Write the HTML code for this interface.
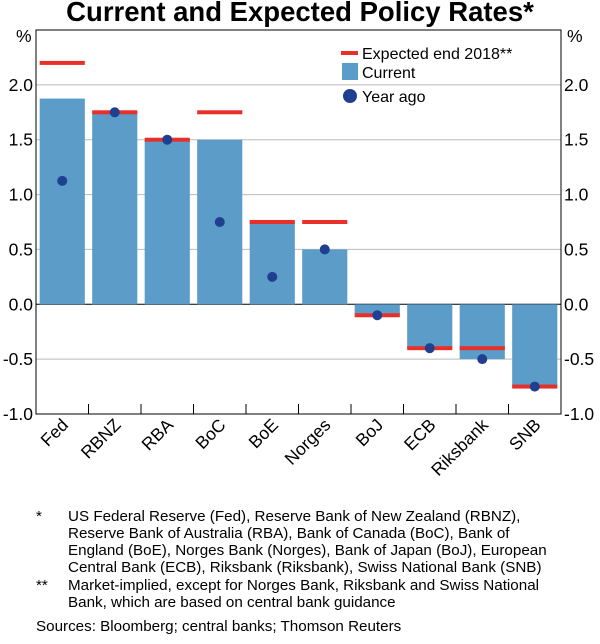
<!DOCTYPE html>
<html><head><meta charset="utf-8"><style>
body{margin:0;background:#fff;}
svg{display:block;font-family:"Liberation Sans",Arial,sans-serif;}
</style></head><body>
<svg id="c" width="600" height="644" viewBox="0 0 600 644">
<text x="300" y="21" text-anchor="middle" font-size="27.5" font-weight="bold">Current and Expected Policy Rates*</text>
<g id="grid"></g>
<g id="bars"></g>
<g id="exp"></g>
<g id="dots"></g>
<g id="axes"></g>
<g>
 <g><rect x="341" y="51" width="17" height="4" fill="#e8302a"/><text x="362" y="59" font-size="16">Expected end 2018**</text></g>
 <g><rect x="342" y="63" width="16" height="17" fill="#5b9cc9"/><text x="362" y="78" font-size="16">Current</text></g>
 <g><circle cx="350" cy="96" r="7" fill="#1f3f8f"/><text x="362" y="102" font-size="16">Year ago</text></g>
</g>
<g font-size="15.2">
 <text x="36" y="521">*</text>
 <text x="68" y="521">US Federal Reserve (Fed), Reserve Bank of New Zealand (RBNZ),</text>
 <text x="68" y="538">Reserve Bank of Australia (RBA), Bank of Canada (BoC), Bank of</text>
 <text x="68" y="555">England (BoE), Norges Bank (Norges), Bank of Japan (BoJ), European</text>
 <text x="68" y="572">Central Bank (ECB), Riksbank (Riksbank), Swiss National Bank (SNB)</text>
 <text x="36" y="590">**</text>
 <text x="68" y="590">Market-implied, except for Norges Bank, Riksbank and Swiss National</text>
 <text x="68" y="607">Bank, which are based on central bank guidance</text>
 <text x="36" y="631">Sources: Bloomberg; central banks; Thomson Reuters</text>
</g>
</svg>
<script>
const categories=["Fed","RBNZ","RBA","BoC","BoE","Norges","BoJ","ECB","Riksbank","SNB"];
const current=[1.875,1.75,1.5,1.5,0.75,0.5,-0.1,-0.4,-0.5,-0.75];
const expected=[2.2,1.75,1.5,1.75,0.75,0.75,-0.1,-0.4,-0.4,-0.75];
const yearAgo=[1.125,1.75,1.5,0.75,0.25,0.5,-0.1,-0.4,-0.5,-0.75];
const yTicks=[-1.0,-0.5,0.0,0.5,1.0,1.5,2.0];
const yTickLabels=["-1.0","-0.5","0.0","0.5","1.0","1.5","2.0"];
const NS="http://www.w3.org/2000/svg";
const L=36,R=561,T=30,B=414;
const yMin=-1,yMax=2.5;
function y(v){return B-(v-yMin)/(yMax-yMin)*(B-T);}
const bw=(R-L)/categories.length;
function xc(i){return L+bw*(i+0.5);}
function mk(tag,attrs,parent){const e=document.createElementNS(NS,tag);for(const k in attrs)e.setAttribute(k,attrs[k]);document.getElementById(parent).appendChild(e);return e;}
yTicks.forEach((t,i)=>{
 if(t>yMin){const g=mk('line',{x1:L,x2:R,y1:y(t),y2:y(t),stroke:t===0?'#000':'#bbb','stroke-width':1},'grid');
 
 }
 const a=mk('text',{x:L-3,y:y(t)+6,'text-anchor':'end','font-size':17.5},'axes');a.textContent=yTickLabels[i];
 
 
 const b=mk('text',{x:R+3,y:y(t)+6,'font-size':17.5},'axes');b.textContent=yTickLabels[i];
 
 
});
[L,R].forEach((xx,j)=>{const p=mk('text',{x:j?R+6:L-20,y:T+12,'font-size':17.5},'axes');p.textContent='%';
 
 });
categories.forEach((c,i)=>{
 const v=current[i];const w=bw*0.86;
 const r=mk('rect',{x:xc(i)-w/2,y:Math.min(y(v),y(0)),width:w,height:Math.abs(y(v)-y(0)),fill:'#5b9cc9'},'bars');
 
 
 const e=mk('rect',{x:xc(i)-w/2,y:y(expected[i])-2,width:w,height:4,fill:'#e8302a'},'exp');
 
 
 const d=mk('circle',{cx:xc(i),cy:y(yearAgo[i]),r:5,fill:'#1f3f8f'},'dots');
 
 
 const lx=xc(i)+7,ly=B+12;
 const t=mk('text',{x:lx,y:ly,'text-anchor':'end','font-size':17.5,transform:`rotate(-45 ${lx} ${ly})`},'axes');t.textContent=c;
 
 
 if(i>0){const tk=mk('line',{x1:L+bw*i,x2:L+bw*i,y1:B,y2:B-10,stroke:'#000'},'axes');
 
 }
});
const f=mk('rect',{x:L,y:T,width:R-L,height:B-T,fill:'none',stroke:'#000','stroke-width':1},'axes');


</script>
</body></html>
